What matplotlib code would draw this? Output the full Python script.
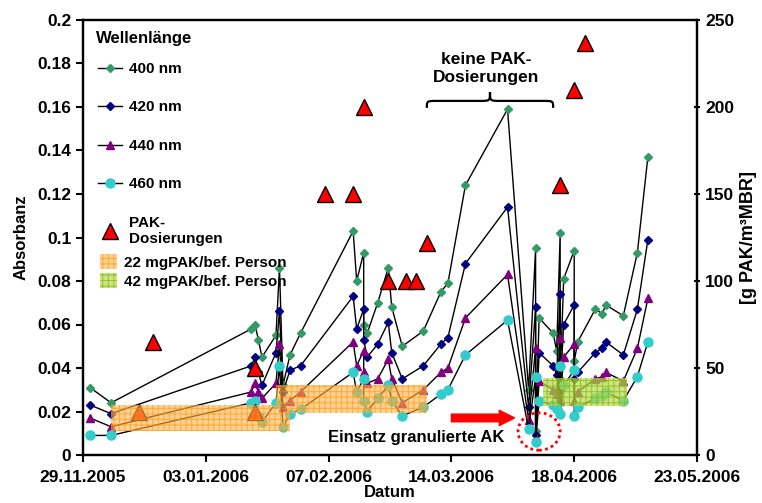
import matplotlib
matplotlib.use('Agg')
import matplotlib.pyplot as plt
import matplotlib.dates as mdates
from matplotlib.lines import Line2D
from matplotlib.patches import Patch, Ellipse, PathPatch
from matplotlib.path import Path
from matplotlib.ticker import FuncFormatter, MultipleLocator
import pandas as pd

plt.rcParams['font.family'] = ['Liberation Sans', 'DejaVu Sans']
plt.rcParams['font.weight'] = 'bold'
plt.rcParams['hatch.linewidth'] = 0.7

# Messdaten (Absorbanz)
dates = ['2005-12-01', '2005-12-07',
         '2006-01-16', '2006-01-17', '2006-01-18', '2006-01-19', '2006-01-23', '2006-01-24',
         '2006-01-25', '2006-01-27', '2006-01-30',
         '2006-02-14', '2006-02-15', '2006-02-17', '2006-02-17', '2006-02-18', '2006-02-21',
         '2006-02-24', '2006-02-25', '2006-02-28',
         '2006-03-06', '2006-03-11', '2006-03-13', '2006-03-18', '2006-03-30',
         '2006-04-05', '2006-04-07', '2006-04-07', '2006-04-08', '2006-04-12', '2006-04-13',
         '2006-04-14', '2006-04-14', '2006-04-15', '2006-04-18', '2006-04-18', '2006-04-19',
         '2006-04-24', '2006-04-26', '2006-04-27', '2006-05-02', '2006-05-06', '2006-05-09']
a400 = [0.031, 0.024,
        0.058, 0.060, 0.053, 0.045, 0.055, 0.086, 0.032, 0.046, 0.056,
        0.103, 0.080, 0.093, 0.060, 0.056, 0.070, 0.086, 0.068, 0.050,
        0.057, 0.075, 0.079, 0.124, 0.159,
        0.030, 0.095, 0.011, 0.063, 0.056, 0.048, 0.102, 0.035, 0.081, 0.094, 0.043, 0.052,
        0.067, 0.065, 0.069, 0.064, 0.093, 0.137]
a420 = [0.023, 0.019,
        0.041, 0.045, 0.038, 0.032, 0.047, 0.066, 0.029, 0.039, 0.041,
        0.073, 0.058, 0.067, 0.053, 0.045, 0.051, 0.061, 0.047, 0.035,
        0.041, 0.051, 0.054, 0.088, 0.114,
        0.022, 0.068, 0.009, 0.047, 0.041, 0.037, 0.074, 0.030, 0.060, 0.069, 0.035, 0.038,
        0.047, 0.049, 0.052, 0.046, 0.067, 0.099]
a440 = [0.017, 0.013,
        0.029, 0.033, 0.029, 0.026, 0.033, 0.051, 0.022, 0.025, 0.029,
        0.052, 0.041, 0.048, 0.038, 0.033, 0.035, 0.044, 0.035, 0.024,
        0.030, 0.038, 0.040, 0.063, 0.083,
        0.016, 0.049, 0.008, 0.034, 0.030, 0.028, 0.054, 0.025, 0.045, 0.051, 0.025, 0.029,
        0.035, 0.036, 0.038, 0.034, 0.049, 0.072]
a460 = [0.009, 0.009,
        0.024, 0.025, 0.018, 0.015, 0.024, 0.041, 0.013, 0.019, 0.021,
        0.038, 0.029, 0.035, 0.025, 0.020, 0.026, 0.032, 0.025, 0.018,
        0.022, 0.028, 0.030, 0.046, 0.062,
        0.012, 0.036, 0.006, 0.025, 0.023, 0.021, 0.041, 0.019, 0.032, 0.039, 0.018, 0.022,
        0.026, 0.027, 0.029, 0.025, 0.036, 0.052]

# PAK-Dosierungen [g PAK/m3 MBR]
pak_dates = ['2005-12-15', '2005-12-19', '2006-01-17', '2006-01-17', '2006-02-06', '2006-02-14',
             '2006-02-17', '2006-02-24', '2006-03-01', '2006-03-04', '2006-03-07',
             '2006-04-14', '2006-04-18', '2006-04-21']
pak_values = [25, 65, 25, 50, 150, 150, 200, 100, 100, 100, 122, 155, 210, 237]

# Dosierbereiche
box22_dates = ['2005-12-07', '2006-01-23', '2006-01-23', '2006-01-27', '2006-01-27', '2006-03-07']
box22_low = [14, 14, 14, 14, 24, 24]
box22_high = [29, 29, 40, 40, 40, 40]
box42_dates = ['2006-04-09', '2006-05-03']
box42_low = [28, 28]
box42_high = [44, 44]

x = pd.to_datetime(dates)
fig = plt.figure(figsize=(7.62, 5.03), dpi=100)
ax = fig.add_axes([83 / 762, 48 / 503, 614 / 762, 435 / 503])
ax2 = ax.twinx()

series = [(a400, 'D', '#339966', 4.5, '400 nm'),
          (a420, 'D', '#000080', 4.5, '420 nm'),
          (a440, '^', '#800080', 6, '440 nm'),
          (a460, 'o', '#33CCCC', 6.5, '460 nm')]
handles = []
for vals, m, c, ms, lab in series:
    ax.plot(x, vals, color='black', lw=1, marker=m, mfc=c, mec=c, ms=ms)
    handles.append(Line2D([], [], color='black', lw=1, marker=m, mfc=c, mec=c, ms=ms))

ax2.plot(pd.to_datetime(pak_dates), pak_values, ls='none', marker='^', ms=11,
         mfc='red', mec='black', mew=1, zorder=2)
handles.append(Line2D([], [], ls='none', marker='^', ms=11, mfc='red', mec='black', mew=1))

orange = dict(facecolor='#FFB347', edgecolor='#FF8C00', hatch='+++', lw=0, alpha=0.6)
green = dict(facecolor='#B8D850', edgecolor='#7FB800', hatch='+++', lw=0, alpha=0.7)
ax2.fill_between(pd.to_datetime(box22_dates), box22_low, box22_high, zorder=3, **orange)
ax2.fill_between(pd.to_datetime(box42_dates), box42_low, box42_high, zorder=3, **green)

# Achsen
start, end = pd.Timestamp('2005-11-29'), pd.Timestamp('2006-05-23')
ax.set_xlim(start, end)
ax.set_xticks(pd.date_range(start, end, freq='35D'))
ax.xaxis.set_major_formatter(mdates.DateFormatter('%d.%m.%Y'))
ax.set_ylim(0, 0.2)
ax.yaxis.set_major_locator(MultipleLocator(0.02))
ax.yaxis.set_major_formatter(FuncFormatter(lambda v, p: f'{v:g}'))
ax2.set_ylim(0, 250)
ax2.yaxis.set_major_locator(MultipleLocator(50))

ax.tick_params(axis='both', labelsize=12.5, width=1.5, length=5, direction='out')
ax.tick_params(axis='x', pad=6)
ax2.tick_params(axis='y', labelsize=12.5, width=1.5, length=5, direction='inout')
for a in (ax, ax2):
    for s in a.spines.values():
        s.set_linewidth(1.6)

ax.set_ylabel('Absorbanz', fontsize=12, fontweight='bold', labelpad=6)
ax.set_xlabel('Datum', fontsize=12, fontweight='bold', labelpad=0)
ax2.set_ylabel('[g PAK/m³MBR]', fontsize=13, fontweight='bold', labelpad=4)

# Legenden
fig.text(96 / 762, 1 - 38 / 503, 'Wellenlänge', ha='left', va='center', fontsize=12,
         fontweight='bold')
labels = ['400 nm', '420 nm', '440 nm', '460 nm', 'PAK-\nDosierungen']
leg1 = ax2.legend(handles, labels, loc='upper left', bbox_to_anchor=(98 / 762, 1 - 62 / 503),
                  bbox_transform=fig.transFigure, frameon=False,
                  prop=dict(weight='bold', size=11),
                  handlelength=1.6, handletextpad=0.4, labelspacing=1.6,
                  borderpad=0, borderaxespad=0)
ax2.add_artist(leg1)
box_handles = [Patch(**orange), Patch(**green)]
ax2.legend(box_handles, ['22 mgPAK/bef. Person', '42 mgPAK/bef. Person'], loc='upper left',
           bbox_to_anchor=(100 / 762, 1 - 254 / 503), bbox_transform=fig.transFigure,
           frameon=False, prop=dict(weight='bold', size=11), handlelength=1.1, handleheight=1.1,
           handletextpad=0.5, labelspacing=0.25, borderpad=0, borderaxespad=0)

# Anmerkungen
d = mdates.date2num
ax2.text(pd.Timestamp('2006-03-24'), 222, 'keine PAK-\nDosierungen', ha='center', va='center',
         fontsize=12.5, fontweight='bold', linespacing=1.25)
x0, x1 = d(pd.Timestamp('2006-03-07')), d(pd.Timestamp('2006-04-12'))
xm = (x0 + x1) / 2
yb, yl, yt, dx = 199.5, 203.5, 208.5, 3
verts = [(x0, yb), (x0, yl), (x0, yl), (x0 + dx, yl), (xm - dx, yl),
         (xm, yl), (xm, yl), (xm, yt),
         (xm, yl), (xm, yl), (xm + dx, yl), (x1 - dx, yl),
         (x1, yl), (x1, yl), (x1, yb)]
codes = [Path.MOVETO, Path.CURVE4, Path.CURVE4, Path.CURVE4, Path.LINETO,
         Path.CURVE4, Path.CURVE4, Path.CURVE4,
         Path.CURVE4, Path.CURVE4, Path.CURVE4, Path.LINETO,
         Path.CURVE4, Path.CURVE4, Path.CURVE4]
ax2.add_patch(PathPatch(Path(verts, codes), fill=False, lw=1.6, color='black'))

ax2.annotate('', xy=(pd.Timestamp('2006-04-01'), 21.3), xytext=(pd.Timestamp('2006-03-14'), 21.3),
             arrowprops=dict(arrowstyle='simple,head_length=1.1,head_width=1.1,tail_width=0.55',
                             color='red', mutation_scale=10, shrinkA=0, shrinkB=0))
ax2.text(pd.Timestamp('2006-03-04'), 10.3, 'Einsatz granulierte AK', ha='center', va='center',
         fontsize=12, fontweight='bold')
ax2.add_patch(Ellipse((d(pd.Timestamp('2006-04-08')), 13.5), 12, 21.5, fill=False,
                      edgecolor='red', lw=2, ls=(0, (1, 1.2)), zorder=5))

plt.savefig('out.png', dpi=100)
